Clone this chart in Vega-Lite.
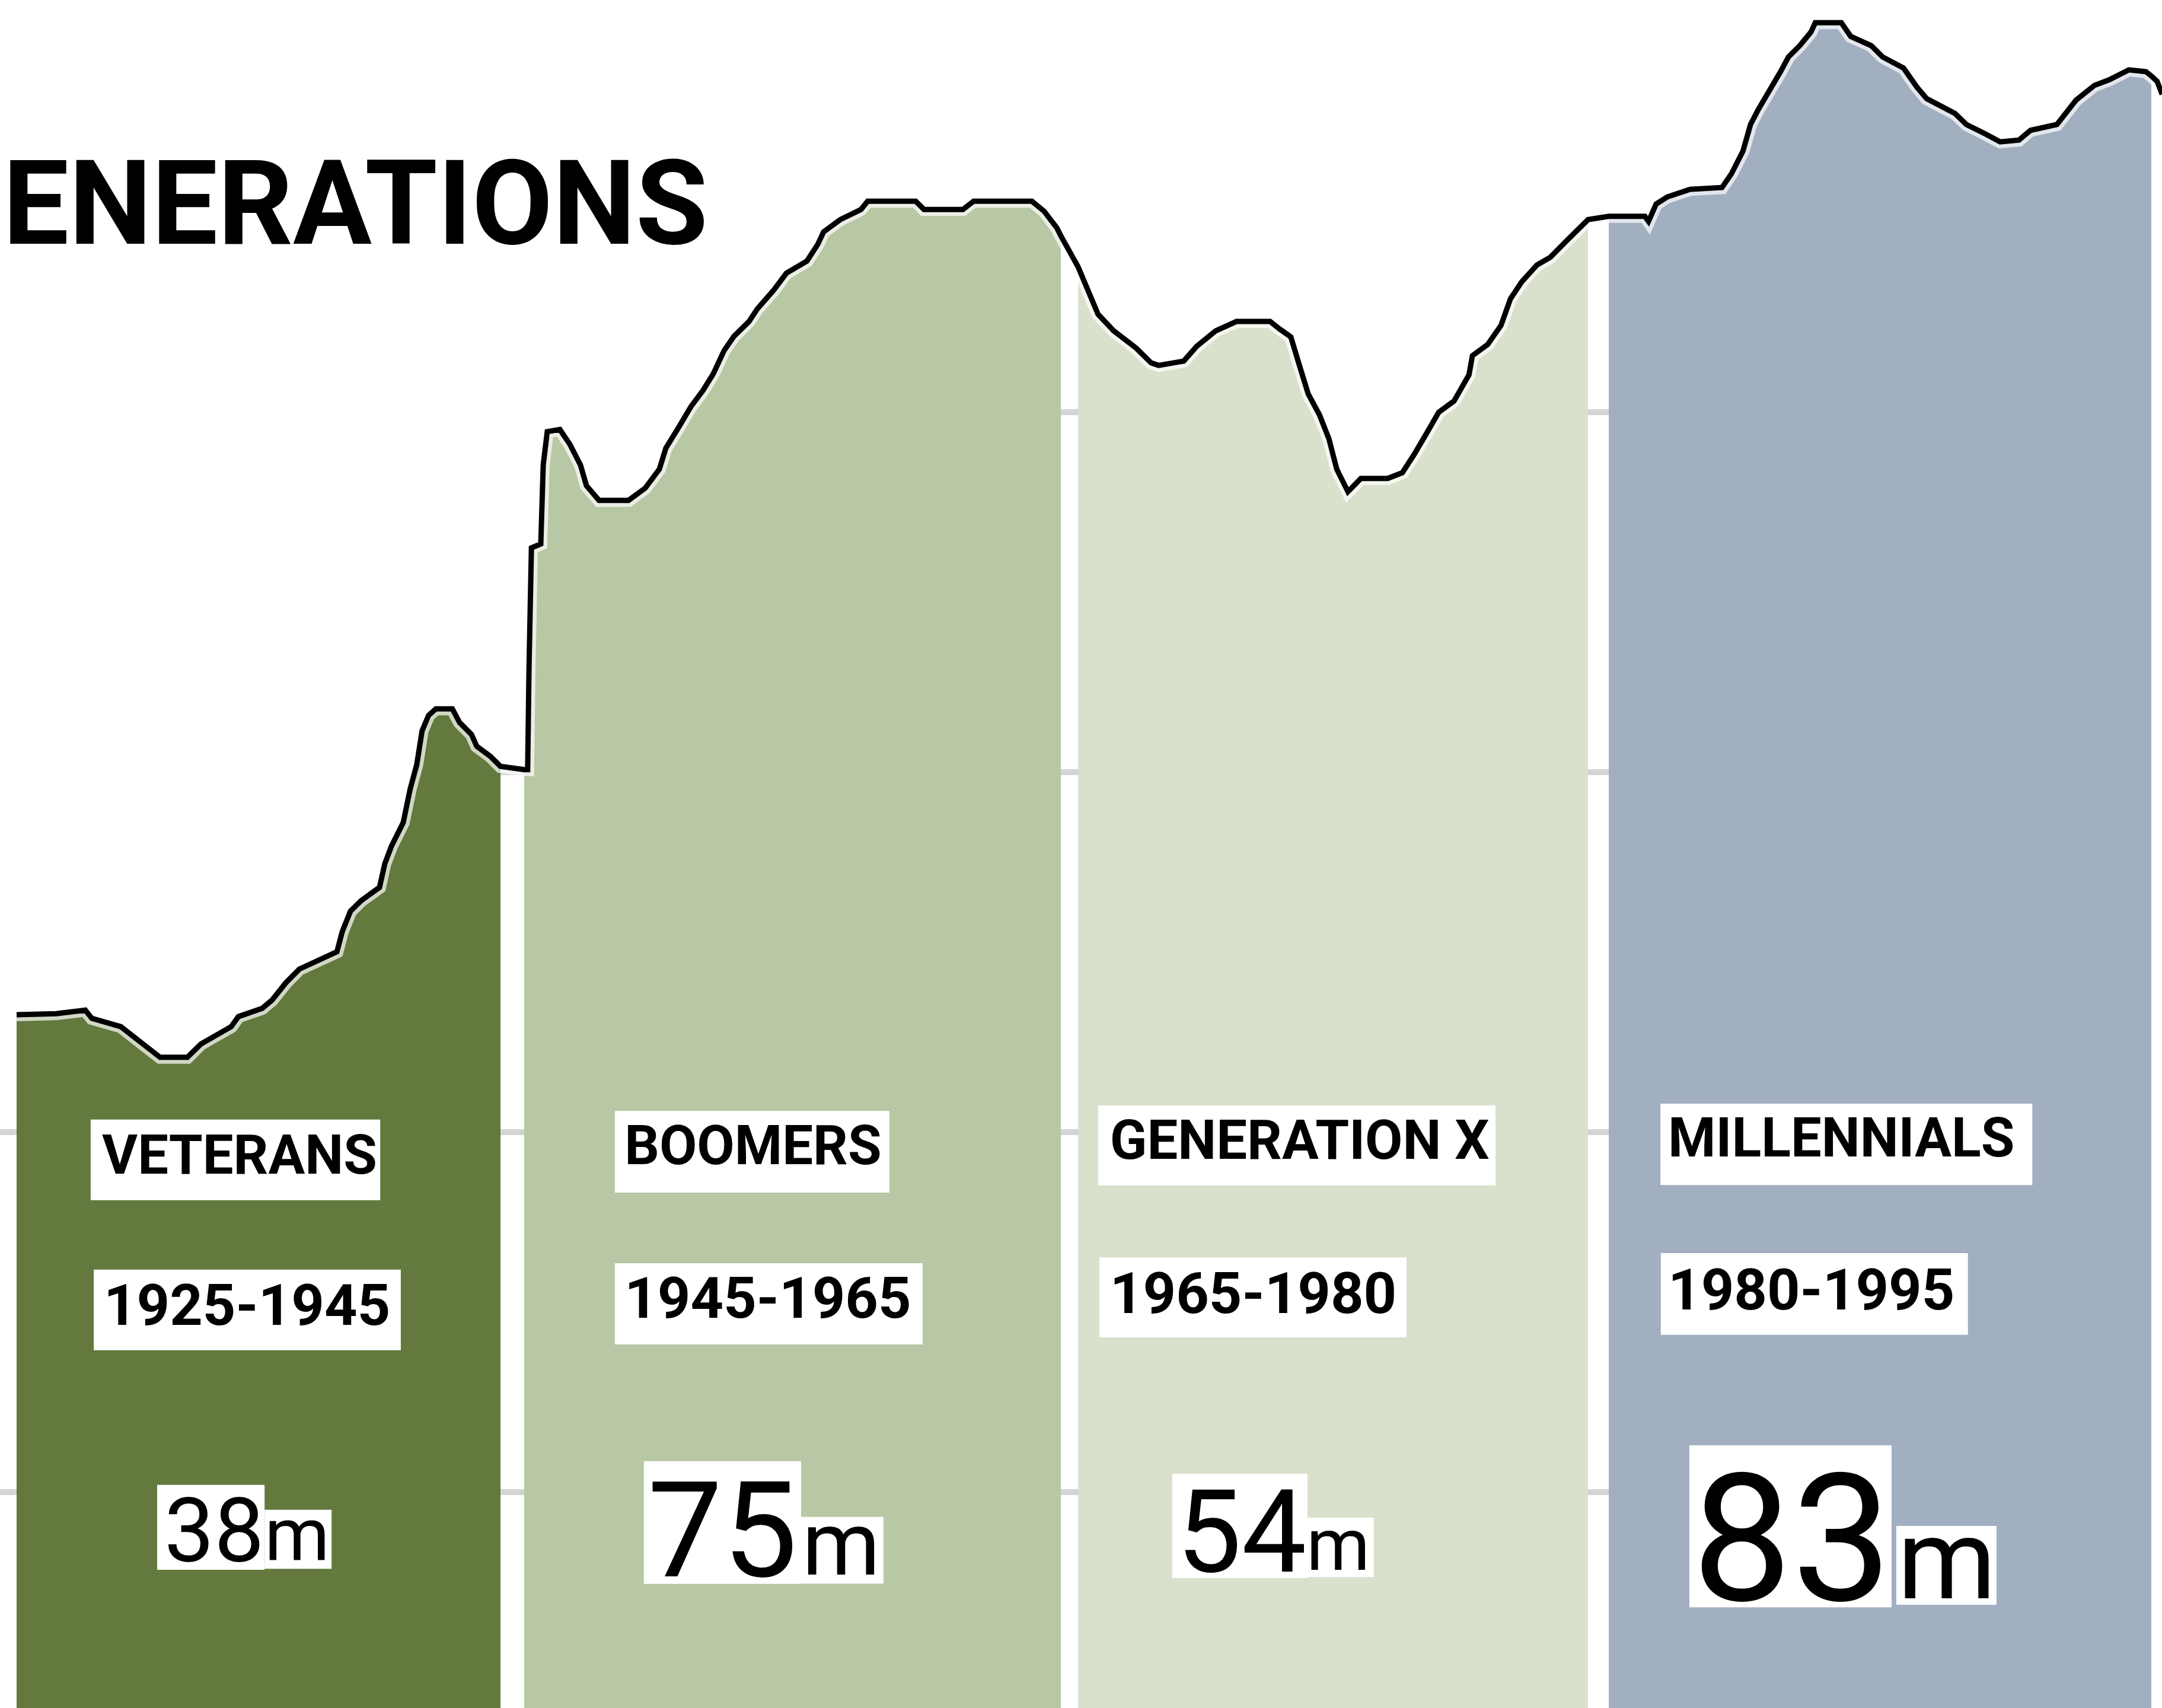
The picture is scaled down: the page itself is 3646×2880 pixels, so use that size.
{
  "$schema": "https://vega.github.io/schema/vega-lite/v6.json",
  "width": 3600,
  "height": 2880,
  "autosize": {"type": "none"},
  "padding": {"left": 28, "top": 0, "right": 18, "bottom": 0},
  "background": "white",
  "config": {"view": {"stroke": null}, "text": {"font": "Roboto", "color": "black", "align": "left", "baseline": "alphabetic"}},
  "data": {"values": [
    {"gen": "Veterans", "year": 1925.00, "value": 2.326}, {"gen": "Veterans", "year": 1926.64, "value": 2.329},
    {"gen": "Veterans", "year": 1927.84, "value": 2.339}, {"gen": "Veterans", "year": 1928.11, "value": 2.316},
    {"gen": "Veterans", "year": 1929.31, "value": 2.293}, {"gen": "Veterans", "year": 1930.22, "value": 2.245},
    {"gen": "Veterans", "year": 1930.93, "value": 2.208}, {"gen": "Veterans", "year": 1932.06, "value": 2.208},
    {"gen": "Veterans", "year": 1932.62, "value": 2.245}, {"gen": "Veterans", "year": 1933.87, "value": 2.293},
    {"gen": "Veterans", "year": 1934.17, "value": 2.321}, {"gen": "Veterans", "year": 1935.15, "value": 2.344},
    {"gen": "Veterans", "year": 1935.56, "value": 2.367}, {"gen": "Veterans", "year": 1936.13, "value": 2.415},
    {"gen": "Veterans", "year": 1936.69, "value": 2.453}, {"gen": "Veterans", "year": 1938.24, "value": 2.501},
    {"gen": "Veterans", "year": 1938.46, "value": 2.557}, {"gen": "Veterans", "year": 1938.80, "value": 2.614},
    {"gen": "Veterans", "year": 1939.24, "value": 2.643}, {"gen": "Veterans", "year": 1940.00, "value": 2.680},
    {"gen": "Veterans", "year": 1940.22, "value": 2.746}, {"gen": "Veterans", "year": 1940.49, "value": 2.794},
    {"gen": "Veterans", "year": 1940.98, "value": 2.860}, {"gen": "Veterans", "year": 1941.27, "value": 2.954},
    {"gen": "Veterans", "year": 1941.54, "value": 3.021}, {"gen": "Veterans", "year": 1941.76, "value": 3.115},
    {"gen": "Veterans", "year": 1942.03, "value": 3.158}, {"gen": "Veterans", "year": 1942.33, "value": 3.176},
    {"gen": "Veterans", "year": 1943.01, "value": 3.176}, {"gen": "Veterans", "year": 1943.31, "value": 3.138},
    {"gen": "Veterans", "year": 1943.80, "value": 3.105}, {"gen": "Veterans", "year": 1944.02, "value": 3.072},
    {"gen": "Veterans", "year": 1944.58, "value": 3.044}, {"gen": "Veterans", "year": 1945.00, "value": 3.016},
    {"gen": "Boomers", "year": 1945.001, "value": 3.007}, {"gen": "Boomers", "year": 1945.13, "value": 3.007},
    {"gen": "Boomers", "year": 1945.18, "value": 3.287}, {"gen": "Boomers", "year": 1945.27, "value": 3.623},
    {"gen": "Boomers", "year": 1945.62, "value": 3.634}, {"gen": "Boomers", "year": 1945.71, "value": 3.853},
    {"gen": "Boomers", "year": 1945.86, "value": 3.946}, {"gen": "Boomers", "year": 1946.33, "value": 3.952},
    {"gen": "Boomers", "year": 1946.70, "value": 3.911}, {"gen": "Boomers", "year": 1947.10, "value": 3.853},
    {"gen": "Boomers", "year": 1947.32, "value": 3.796}, {"gen": "Boomers", "year": 1947.79, "value": 3.755},
    {"gen": "Boomers", "year": 1948.89, "value": 3.755}, {"gen": "Boomers", "year": 1949.51, "value": 3.789},
    {"gen": "Boomers", "year": 1950.04, "value": 3.842}, {"gen": "Boomers", "year": 1950.28, "value": 3.900},
    {"gen": "Boomers", "year": 1950.75, "value": 3.957}, {"gen": "Boomers", "year": 1951.21, "value": 4.015},
    {"gen": "Boomers", "year": 1951.67, "value": 4.061}, {"gen": "Boomers", "year": 1952.05, "value": 4.107},
    {"gen": "Boomers", "year": 1952.45, "value": 4.171}, {"gen": "Boomers", "year": 1952.82, "value": 4.211},
    {"gen": "Boomers", "year": 1953.38, "value": 4.252}, {"gen": "Boomers", "year": 1953.69, "value": 4.287},
    {"gen": "Boomers", "year": 1954.30, "value": 4.339}, {"gen": "Boomers", "year": 1954.77, "value": 4.386},
    {"gen": "Boomers", "year": 1955.54, "value": 4.420}, {"gen": "Boomers", "year": 1955.94, "value": 4.466},
    {"gen": "Boomers", "year": 1956.16, "value": 4.501}, {"gen": "Boomers", "year": 1956.78, "value": 4.535},
    {"gen": "Boomers", "year": 1957.55, "value": 4.563}, {"gen": "Boomers", "year": 1957.80, "value": 4.586},
    {"gen": "Boomers", "year": 1959.59, "value": 4.586}, {"gen": "Boomers", "year": 1959.90, "value": 4.563},
    {"gen": "Boomers", "year": 1961.35, "value": 4.563}, {"gen": "Boomers", "year": 1961.75, "value": 4.586},
    {"gen": "Boomers", "year": 1963.92, "value": 4.586}, {"gen": "Boomers", "year": 1964.38, "value": 4.558},
    {"gen": "Boomers", "year": 1964.85, "value": 4.512}, {"gen": "Boomers", "year": 1965.00, "value": 4.490},
    {"gen": "Generation X", "year": 1965.001, "value": 4.404}, {"gen": "Generation X", "year": 1965.26, "value": 4.346},
    {"gen": "Generation X", "year": 1965.59, "value": 4.272}, {"gen": "Generation X", "year": 1966.05, "value": 4.226},
    {"gen": "Generation X", "year": 1966.71, "value": 4.178}, {"gen": "Generation X", "year": 1967.15, "value": 4.137},
    {"gen": "Generation X", "year": 1967.37, "value": 4.130}, {"gen": "Generation X", "year": 1968.11, "value": 4.142},
    {"gen": "Generation X", "year": 1968.49, "value": 4.183}, {"gen": "Generation X", "year": 1969.05, "value": 4.226},
    {"gen": "Generation X", "year": 1969.66, "value": 4.252}, {"gen": "Generation X", "year": 1970.65, "value": 4.252},
    {"gen": "Generation X", "year": 1970.93, "value": 4.231}, {"gen": "Generation X", "year": 1971.26, "value": 4.209},
    {"gen": "Generation X", "year": 1971.49, "value": 4.137}, {"gen": "Generation X", "year": 1971.77, "value": 4.051},
    {"gen": "Generation X", "year": 1972.10, "value": 3.993}, {"gen": "Generation X", "year": 1972.38, "value": 3.926},
    {"gen": "Generation X", "year": 1972.61, "value": 3.842}, {"gen": "Generation X", "year": 1972.94, "value": 3.779},
    {"gen": "Generation X", "year": 1973.32, "value": 3.816}, {"gen": "Generation X", "year": 1974.11, "value": 3.816},
    {"gen": "Generation X", "year": 1974.54, "value": 3.832}, {"gen": "Generation X", "year": 1974.89, "value": 3.883},
    {"gen": "Generation X", "year": 1975.22, "value": 3.936}, {"gen": "Generation X", "year": 1975.61, "value": 4.000},
    {"gen": "Generation X", "year": 1976.06, "value": 4.031}, {"gen": "Generation X", "year": 1976.50, "value": 4.104},
    {"gen": "Generation X", "year": 1976.60, "value": 4.157}, {"gen": "Generation X", "year": 1977.05, "value": 4.188},
    {"gen": "Generation X", "year": 1977.44, "value": 4.241}, {"gen": "Generation X", "year": 1977.72, "value": 4.315},
    {"gen": "Generation X", "year": 1978.05, "value": 4.362}, {"gen": "Generation X", "year": 1978.50, "value": 4.409},
    {"gen": "Generation X", "year": 1978.89, "value": 4.430}, {"gen": "Generation X", "year": 1979.39, "value": 4.478},
    {"gen": "Generation X", "year": 1979.95, "value": 4.530}, {"gen": "Generation X", "year": 1980.00, "value": 4.535},
    {"gen": "Millennials", "year": 1980.001, "value": 4.544}, {"gen": "Millennials", "year": 1981.00, "value": 4.544},
    {"gen": "Millennials", "year": 1981.10, "value": 4.530}, {"gen": "Millennials", "year": 1981.31, "value": 4.578},
    {"gen": "Millennials", "year": 1981.62, "value": 4.598}, {"gen": "Millennials", "year": 1982.25, "value": 4.619},
    {"gen": "Millennials", "year": 1983.13, "value": 4.624}, {"gen": "Millennials", "year": 1983.39, "value": 4.662},
    {"gen": "Millennials", "year": 1983.71, "value": 4.725}, {"gen": "Millennials", "year": 1983.92, "value": 4.799},
    {"gen": "Millennials", "year": 1984.13, "value": 4.840}, {"gen": "Millennials", "year": 1984.44, "value": 4.893},
    {"gen": "Millennials", "year": 1984.75, "value": 4.946}, {"gen": "Millennials", "year": 1984.97, "value": 4.987},
    {"gen": "Millennials", "year": 1985.28, "value": 5.018}, {"gen": "Millennials", "year": 1985.59, "value": 5.056},
    {"gen": "Millennials", "year": 1985.71, "value": 5.082}, {"gen": "Millennials", "year": 1986.43, "value": 5.082},
    {"gen": "Millennials", "year": 1986.69, "value": 5.044}, {"gen": "Millennials", "year": 1987.26, "value": 5.018},
    {"gen": "Millennials", "year": 1987.57, "value": 4.987}, {"gen": "Millennials", "year": 1988.15, "value": 4.956},
    {"gen": "Millennials", "year": 1988.52, "value": 4.903}, {"gen": "Millennials", "year": 1988.79, "value": 4.871},
    {"gen": "Millennials", "year": 1989.57, "value": 4.830}, {"gen": "Millennials", "year": 1989.89, "value": 4.799},
    {"gen": "Millennials", "year": 1990.41, "value": 4.773}, {"gen": "Millennials", "year": 1990.82, "value": 4.751},
    {"gen": "Millennials", "year": 1991.34, "value": 4.756}, {"gen": "Millennials", "year": 1991.66, "value": 4.783},
    {"gen": "Millennials", "year": 1992.39, "value": 4.799}, {"gen": "Millennials", "year": 1992.92, "value": 4.867},
    {"gen": "Millennials", "year": 1993.43, "value": 4.908}, {"gen": "Millennials", "year": 1993.85, "value": 4.924},
    {"gen": "Millennials", "year": 1994.38, "value": 4.951}, {"gen": "Millennials", "year": 1994.85, "value": 4.946},
    {"gen": "Millennials", "year": 1995.00, "value": 4.934}, {"gen": "Millennials", "year": 1995.16, "value": 4.919},
    {"gen": "Millennials", "year": 1995.30, "value": 4.883}
  ]},
  "layer": [
    {"mark": {"type": "area", "clip": true},
     "encoding": {
       "x": {"field": "year", "type": "quantitative", "axis": null,
             "scale": {"domain": [1925, 1945, 1945.001, 1965, 1965.001, 1980, 1980.001, 1995],
                       "range": [0, 816, 856, 1761, 1790, 2650, 2685, 3600], "nice": false, "zero": false}},
       "y": {"field": "value", "type": "quantitative", "axis": null, "stack": null,
             "scale": {"domain": [0.4003, 5.145], "nice": false, "zero": false}},
       "color": {"field": "gen", "type": "nominal", "legend": null,
                 "scale": {"domain": ["Veterans", "Boomers", "Generation X", "Millennials"],
                           "range": ["#63793E", "#B8C7A4", "#D9E1CD", "#A1AFC1"]}}}},
    {"data": {"values": [{"v": 1}, {"v": 2}]},
     "mark": {"type": "rule", "color": "#d4d4d4", "strokeWidth": 10},
     "encoding": {"x": {"datum": 1924.31, "type": "quantitative"}, "x2": {"datum": 1925}, "y": {"field": "v", "type": "quantitative"}}},
    {"data": {"values": [{"v": 1}, {"v": 2}, {"v": 3}]},
     "mark": {"type": "rule", "color": "#d4d4d4", "strokeWidth": 10},
     "encoding": {"x": {"datum": 1945, "type": "quantitative"}, "x2": {"datum": 1945.001}, "y": {"field": "v", "type": "quantitative"}}},
    {"data": {"values": [{"v": 1}, {"v": 2}, {"v": 3}, {"v": 4}]},
     "mark": {"type": "rule", "color": "#d4d4d4", "strokeWidth": 10},
     "encoding": {"x": {"datum": 1965, "type": "quantitative"}, "x2": {"datum": 1965.001}, "y": {"field": "v", "type": "quantitative"}}},
    {"data": {"values": [{"v": 1}, {"v": 2}, {"v": 3}, {"v": 4}]},
     "mark": {"type": "rule", "color": "#d4d4d4", "strokeWidth": 10},
     "encoding": {"x": {"datum": 1980, "type": "quantitative"}, "x2": {"datum": 1980.001}, "y": {"field": "v", "type": "quantitative"}}},
    {"mark": {"type": "line", "color": "white", "strokeWidth": 22, "opacity": 0.7},
     "encoding": {"x": {"field": "year", "type": "quantitative"}, "y": {"field": "value", "type": "quantitative"}}},
    {"mark": {"type": "line", "color": "black", "strokeWidth": 9},
     "encoding": {"x": {"field": "year", "type": "quantitative"}, "y": {"field": "value", "type": "quantitative"}}},
    {"data": {"values": [{"label": "GENERATIONS"}]},
     "mark": {"type": "text", "align": "right", "fontWeight": "bold", "fontSize": 198},
     "encoding": {"x": {"datum": 1951.85, "type": "quantitative"}, "y": {"datum": 4.468, "type": "quantitative"}, "text": {"field": "label"}}},

    {"data": {"values": [{}]}, "mark": {"type": "rect", "color": "white"},
     "encoding": {"x": {"datum": 1928.06, "type": "quantitative"}, "x2": {"datum": 1940.03}, "y": {"datum": 1.811, "type": "quantitative"}, "y2": {"datum": 2.035}}},
    {"data": {"values": [{}]}, "mark": {"type": "rect", "color": "white"},
     "encoding": {"x": {"datum": 1928.19, "type": "quantitative"}, "x2": {"datum": 1940.88}, "y": {"datum": 1.394, "type": "quantitative"}, "y2": {"datum": 1.618}}},
    {"data": {"values": [{}]}, "mark": {"type": "rect", "color": "white"},
     "encoding": {"x": {"datum": 1930.81, "type": "quantitative"}, "x2": {"datum": 1935.25}, "y": {"datum": 0.784, "type": "quantitative"}, "y2": {"datum": 1.020}}},
    {"data": {"values": [{}]}, "mark": {"type": "rect", "color": "white"},
     "encoding": {"x": {"datum": 1935.25, "type": "quantitative"}, "x2": {"datum": 1938.02}, "y": {"datum": 0.787, "type": "quantitative"}, "y2": {"datum": 0.951}}},
    {"data": {"values": [{"label": "VETERANS"}]},
     "mark": {"type": "text", "fontWeight": "bold", "fontSize": 92},
     "encoding": {"x": {"datum": 1928.53, "type": "quantitative"}, "y": {"datum": 1.885, "type": "quantitative"}, "text": {"field": "label"}}},
    {"data": {"values": [{"label": "1925-1945"}]},
     "mark": {"type": "text", "fontWeight": "bold", "fontSize": 97},
     "encoding": {"x": {"datum": 1928.60, "type": "quantitative"}, "y": {"datum": 1.465, "type": "quantitative"}, "text": {"field": "label"}}},
    {"data": {"values": [{"label": "38"}]},
     "mark": {"type": "text", "fontSize": 150},
     "encoding": {"x": {"datum": 1931.10, "type": "quantitative"}, "y": {"datum": 0.807, "type": "quantitative"}, "text": {"field": "label"}}},
    {"data": {"values": [{"label": "m"}]},
     "mark": {"type": "text", "fontSize": 125},
     "encoding": {"x": {"datum": 1935.25, "type": "quantitative"}, "y": {"datum": 0.812, "type": "quantitative"}, "text": {"field": "label"}}},

    {"data": {"values": [{}]}, "mark": {"type": "rect", "color": "white"},
     "encoding": {"x": {"datum": 1948.38, "type": "quantitative"}, "x2": {"datum": 1958.61}, "y": {"datum": 1.832, "type": "quantitative"}, "y2": {"datum": 2.059}}},
    {"data": {"values": [{}]}, "mark": {"type": "rect", "color": "white"},
     "encoding": {"x": {"datum": 1948.38, "type": "quantitative"}, "x2": {"datum": 1959.85}, "y": {"datum": 1.410, "type": "quantitative"}, "y2": {"datum": 1.636}}},
    {"data": {"values": [{}]}, "mark": {"type": "rect", "color": "white"},
     "encoding": {"x": {"datum": 1949.46, "type": "quantitative"}, "x2": {"datum": 1955.32}, "y": {"datum": 0.745, "type": "quantitative"}, "y2": {"datum": 1.086}}},
    {"data": {"values": [{}]}, "mark": {"type": "rect", "color": "white"},
     "encoding": {"x": {"datum": 1955.32, "type": "quantitative"}, "x2": {"datum": 1958.39}, "y": {"datum": 0.746, "type": "quantitative"}, "y2": {"datum": 0.931}}},
    {"data": {"values": [{"label": "BOOMERS"}]},
     "mark": {"type": "text", "fontWeight": "bold", "fontSize": 92},
     "encoding": {"x": {"datum": 1948.74, "type": "quantitative"}, "y": {"datum": 1.911, "type": "quantitative"}, "text": {"field": "label"}}},
    {"data": {"values": [{"label": "1945-1965"}]},
     "mark": {"type": "text", "fontWeight": "bold", "fontSize": 97},
     "encoding": {"x": {"datum": 1948.74, "type": "quantitative"}, "y": {"datum": 1.484, "type": "quantitative"}, "text": {"field": "label"}}},
    {"data": {"values": [{"label": "75"}]},
     "mark": {"type": "text", "fontSize": 225},
     "encoding": {"x": {"datum": 1949.60, "type": "quantitative"}, "y": {"datum": 0.766, "type": "quantitative"}, "text": {"field": "label"}}},
    {"data": {"values": [{"label": "m"}]},
     "mark": {"type": "text", "fontSize": 150},
     "encoding": {"x": {"datum": 1955.36, "type": "quantitative"}, "y": {"datum": 0.771, "type": "quantitative"}, "text": {"field": "label"}}},

    {"data": {"values": [{}]}, "mark": {"type": "rect", "color": "white"},
     "encoding": {"x": {"datum": 1965.59, "type": "quantitative"}, "x2": {"datum": 1977.28}, "y": {"datum": 1.852, "type": "quantitative"}, "y2": {"datum": 2.074}}},
    {"data": {"values": [{}]}, "mark": {"type": "rect", "color": "white"},
     "encoding": {"x": {"datum": 1965.63, "type": "quantitative"}, "x2": {"datum": 1974.66}, "y": {"datum": 1.430, "type": "quantitative"}, "y2": {"datum": 1.652}}},
    {"data": {"values": [{}]}, "mark": {"type": "rect", "color": "white"},
     "encoding": {"x": {"datum": 1967.77, "type": "quantitative"}, "x2": {"datum": 1971.75}, "y": {"datum": 0.761, "type": "quantitative"}, "y2": {"datum": 1.051}}},
    {"data": {"values": [{}]}, "mark": {"type": "rect", "color": "white"},
     "encoding": {"x": {"datum": 1971.75, "type": "quantitative"}, "x2": {"datum": 1973.70}, "y": {"datum": 0.764, "type": "quantitative"}, "y2": {"datum": 0.929}}},
    {"data": {"values": [{"label": "GENERATION X"}]},
     "mark": {"type": "text", "fontWeight": "bold", "fontSize": 92},
     "encoding": {"x": {"datum": 1965.94, "type": "quantitative"}, "y": {"datum": 1.926, "type": "quantitative"}, "text": {"field": "label"}}},
    {"data": {"values": [{"label": "1965-1980"}]},
     "mark": {"type": "text", "fontWeight": "bold", "fontSize": 97},
     "encoding": {"x": {"datum": 1965.94, "type": "quantitative"}, "y": {"datum": 1.498, "type": "quantitative"}, "text": {"field": "label"}}},
    {"data": {"values": [{"label": "54"}]},
     "mark": {"type": "text", "fontSize": 195},
     "encoding": {"x": {"datum": 1967.90, "type": "quantitative"}, "y": {"datum": 0.779, "type": "quantitative"}, "text": {"field": "label"}}},
    {"data": {"values": [{"label": "m"}]},
     "mark": {"type": "text", "fontSize": 122},
     "encoding": {"x": {"datum": 1971.72, "type": "quantitative"}, "y": {"datum": 0.784, "type": "quantitative"}, "text": {"field": "label"}}},

    {"data": {"values": [{}]}, "mark": {"type": "rect", "color": "white"},
     "encoding": {"x": {"datum": 1981.43, "type": "quantitative"}, "x2": {"datum": 1991.71}, "y": {"datum": 1.853, "type": "quantitative"}, "y2": {"datum": 2.079}}},
    {"data": {"values": [{}]}, "mark": {"type": "rect", "color": "white"},
     "encoding": {"x": {"datum": 1981.44, "type": "quantitative"}, "x2": {"datum": 1989.93}, "y": {"datum": 1.437, "type": "quantitative"}, "y2": {"datum": 1.664}}},
    {"data": {"values": [{}]}, "mark": {"type": "rect", "color": "white"},
     "encoding": {"x": {"datum": 1982.23, "type": "quantitative"}, "x2": {"datum": 1987.82}, "y": {"datum": 0.680, "type": "quantitative"}, "y2": {"datum": 1.130}}},
    {"data": {"values": [{}]}, "mark": {"type": "rect", "color": "white"},
     "encoding": {"x": {"datum": 1987.95, "type": "quantitative"}, "x2": {"datum": 1990.72}, "y": {"datum": 0.687, "type": "quantitative"}, "y2": {"datum": 0.906}}},
    {"data": {"values": [{"label": "MILLENNIALS"}]},
     "mark": {"type": "text", "fontWeight": "bold", "fontSize": 92},
     "encoding": {"x": {"datum": 1981.64, "type": "quantitative"}, "y": {"datum": 1.932, "type": "quantitative"}, "text": {"field": "label"}}},
    {"data": {"values": [{"label": "1980-1995"}]},
     "mark": {"type": "text", "fontWeight": "bold", "fontSize": 97},
     "encoding": {"x": {"datum": 1981.64, "type": "quantitative"}, "y": {"datum": 1.507, "type": "quantitative"}, "text": {"field": "label"}}},
    {"data": {"values": [{"label": "83"}]},
     "mark": {"type": "text", "fontSize": 300},
     "encoding": {"x": {"datum": 1982.30, "type": "quantitative"}, "y": {"datum": 0.700, "type": "quantitative"}, "text": {"field": "label"}}},
    {"data": {"values": [{"label": "m"}]},
     "mark": {"type": "text", "fontSize": 190},
     "encoding": {"x": {"datum": 1987.98, "type": "quantitative"}, "y": {"datum": 0.705, "type": "quantitative"}, "text": {"field": "label"}}}
  ]
}
